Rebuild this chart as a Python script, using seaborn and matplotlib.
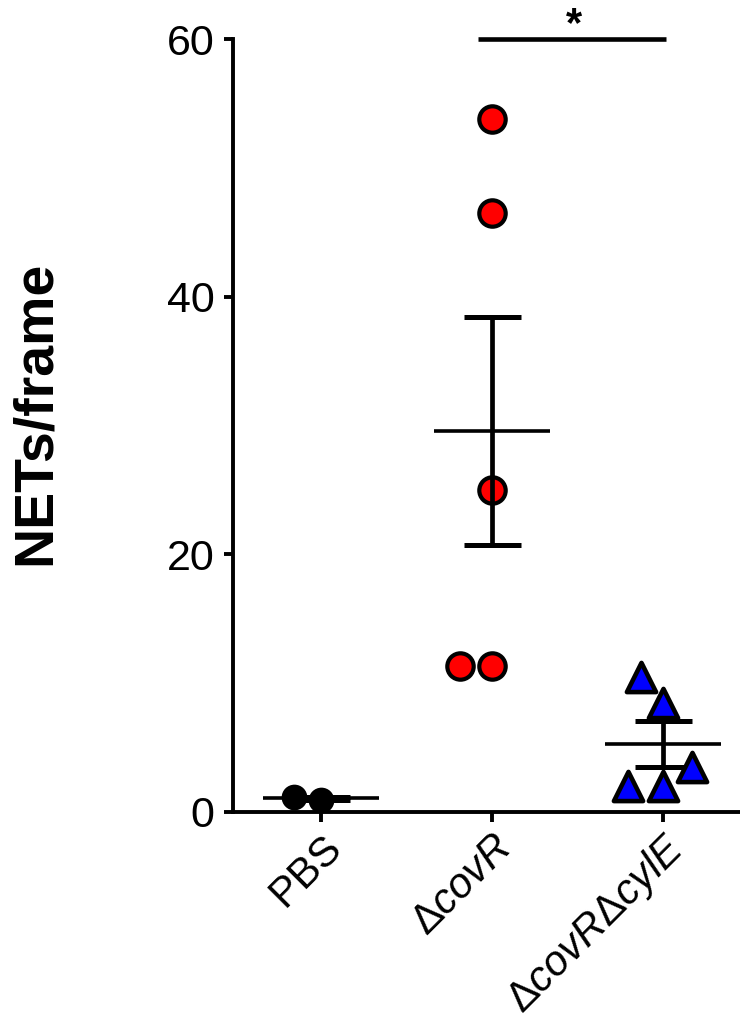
import numpy as np
import pandas as pd
import matplotlib
matplotlib.use("Agg")
import matplotlib.pyplot as plt
import seaborn as sns

# Group labels (mathtext: upright delta, italic gene names)
groups = ["PBS", r"$\Delta\mathit{covR}$", r"$\Delta\mathit{covR}\Delta\mathit{cylE}$"]

# NETs counted per frame for each group
pbs_vals = [0.95, 1.15]
covr_vals = [53.8, 46.5, 25.0, 11.3, 11.3]
covr_cyle_vals = [10.5, 8.45, 3.5, 2.0, 2.0]

y_ticks = [0, 20, 40, 60]
y_label = "NETs/frame"
sig_text = "*"

sns.set_theme(style="ticks")
plt.rcParams["font.family"] = ["Liberation Sans", "DejaVu Sans"]
plt.rcParams["mathtext.fontset"] = "custom"
plt.rcParams["mathtext.rm"] = "Liberation Sans"
plt.rcParams["mathtext.it"] = "Liberation Sans:italic"
plt.rcParams["mathtext.bf"] = "Liberation Sans:bold"
plt.rcParams["text.color"] = "black"
plt.rcParams["xtick.color"] = "black"
plt.rcParams["ytick.color"] = "black"
plt.rcParams["xtick.labelcolor"] = "black"
plt.rcParams["ytick.labelcolor"] = "black"

df = pd.DataFrame({
    "group": [groups[0]] * len(pbs_vals) + [groups[1]] * len(covr_vals) + [groups[2]] * len(covr_cyle_vals),
    "value": pbs_vals + covr_vals + covr_cyle_vals,
})

fig = plt.figure(figsize=(7.4, 10.22), dpi=100)
ax = fig.add_axes([0.3149, 0.2055, 1.0 - 0.3149, 0.9618 - 0.2055])

# per-group marker style; the blue triangles sit above their SEM bars,
# the other groups sit beneath theirs
styles = [
    dict(color="black", marker="o", size=16.5, lw=2.0, z=3),
    dict(color="#ff0000", marker="o", size=19.0, lw=3.0, z=3),
    dict(color="#0000ff", marker="^", size=21.0, lw=3.3, z=6),
]
for g, st in zip(groups, styles):
    sns.swarmplot(data=df[df["group"] == g], x="group", y="value", order=groups,
                  color=st["color"], marker=st["marker"], size=st["size"],
                  edgecolor="black", linewidth=st["lw"], ax=ax, zorder=st["z"],
                  clip_on=False)

# Mean with SEM bars
for i, vals in enumerate([pbs_vals, covr_vals, covr_cyle_vals]):
    v = np.asarray(vals)
    m = v.mean()
    sem = v.std(ddof=1) / np.sqrt(len(v))
    ax.hlines(m, i - 0.34, i + 0.34, color="black", lw=2.6, zorder=4)
    ax.vlines(i, m - sem, m + sem, color="black", lw=3.4, zorder=4)
    ax.hlines([m - sem, m + sem], i - 0.167, i + 0.167, color="black", lw=3.6, zorder=4)

# Significance bar between the two mutant groups
ax.plot([0.92, 2.02], [60, 60], color="black", lw=3.3, clip_on=False, solid_capstyle="butt")
ax.text(1.48, 60.2, sig_text, ha="center", va="baseline", fontsize=30, fontweight="bold")

ax.set_xlim(-0.515, 2.45)
ax.set_ylim(0, 60)
ax.set_yticks(y_ticks)
ax.set_xlabel("")
ax.set_ylabel("")
sns.despine(ax=ax)
for s in ["left", "bottom"]:
    ax.spines[s].set_linewidth(2.8)
    ax.spines[s].set_color("black")
ax.tick_params(axis="y", length=6.5, width=2.8, labelsize=31, pad=7, colors="black")
ax.tick_params(axis="x", length=7, width=2.8, labelsize=30, pad=4, colors="black")
ax.set_xticks(range(3))
ax.set_xticklabels(groups, rotation=45, ha="right", rotation_mode="anchor")

fig.text(36 / 740, 1 - 413 / 1022, y_label, rotation=90, ha="center", va="center",
         fontsize=40, fontweight="bold", color="black")

fig.savefig("out.png", dpi=100, facecolor="white")
